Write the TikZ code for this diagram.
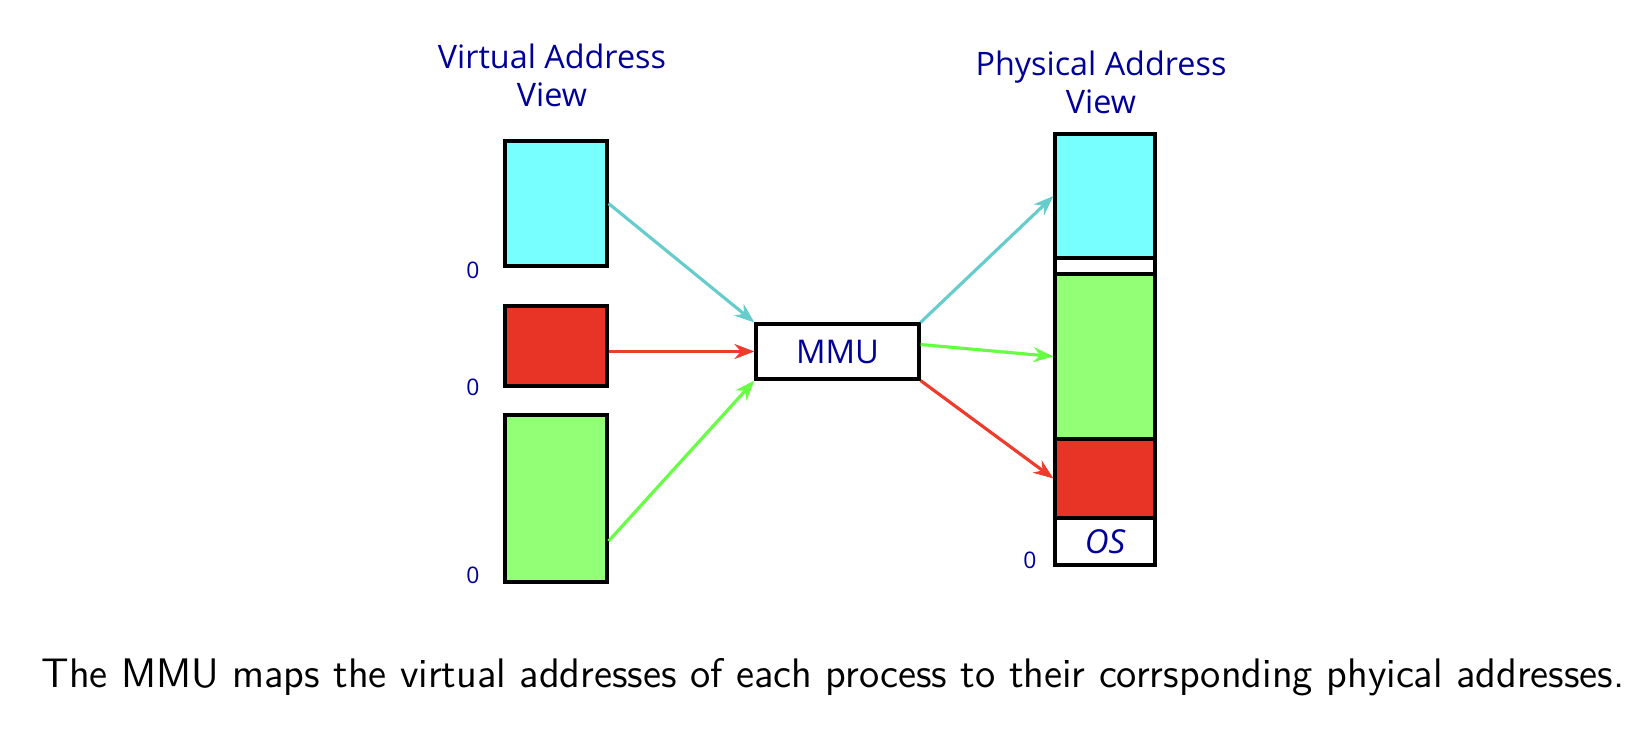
\documentclass[tikz,border=0pt]{standalone}
\usepackage{fontspec}
\newfontfamily\comicfont{Open Sans}
\usepackage{tikz}
\usetikzlibrary{calc,arrows.meta}
\definecolor{navy}{RGB}{0,0,153}
\definecolor{segcyan}{RGB}{119,255,255}
\definecolor{segred}{RGB}{232,52,39}
\definecolor{seggreen}{RGB}{147,255,119}
\definecolor{mapcyan}{RGB}{102,204,204}
\definecolor{mapred}{RGB}{238,59,43}
\definecolor{mapgreen}{RGB}{102,255,68}

\begin{document}
\begin{tikzpicture}[
    seg/.style={draw=black,line width=0.9pt,inner sep=0pt,minimum width=1.02cm},
    pseg/.style={seg,minimum width=1.00cm},
    title/.style={font=\comicfont\fontsize{9.2}{10.8}\selectfont,text=navy,align=center},
    zero/.style={font=\comicfont\fontsize{6.5}{7}\selectfont,text=navy},
    map/.style={line width=0.9pt,-{Stealth[length=2mm,width=1.5mm]}}
  ]
    \useasboundingbox(0,0) rectangle (16.36,7.30);
    % virtual address view
    \node[title](vtitle) at (5.52,6.55) {Virtual Address\\View};
    \node[seg,fill=segcyan,minimum height=1.25cm](vcyan) at (5.56,5.265) {};
    \node[seg,fill=segred,minimum height=0.80cm](vred) at (5.56,3.84) {};
    \node[seg,fill=seggreen,minimum height=1.67cm](vgreen) at (5.56,2.315) {};
    \node[zero](vzero1) at (4.73,4.60) {0};
    \node[zero](vzero2) at (4.73,3.43) {0};
    \node[zero](vzero3) at (4.73,1.55) {0};
    % mmu
    \node[draw=black,line width=0.9pt,minimum width=1.63cm,minimum height=0.55cm,
      font=\comicfont\fontsize{9.3}{11}\selectfont,text=navy](mmu) at (8.375,3.785) {MMU};
    % physical address view
    \node[title](ptitle) at (11.01,6.48) {Physical Address\\View};
    \node[pseg,fill=segcyan,minimum height=1.24cm](pcyan) at (11.05,5.34) {};
    \node[pseg,fill=white,minimum height=0.16cm](pgap) at (11.05,4.64) {};
    \node[pseg,fill=seggreen,minimum height=1.65cm](pgreen) at (11.05,3.735) {};
    \node[pseg,fill=segred,minimum height=0.79cm](pred) at (11.05,2.515) {};
    \node[pseg,fill=white,minimum height=0.47cm,
      font=\comicfont\itshape\fontsize{9.4}{11}\selectfont,text=navy](pos) at (11.05,1.885) {OS};
    \node[zero](pzero) at (10.30,1.70) {0};
    % mappings
    \draw[map,mapcyan](vcyan.east)--(mmu.north west);
    \draw[map,mapred](vred.east |- mmu.west)--(mmu.west);
    \draw[map,mapgreen]($(vgreen.south east)!0.25!(vgreen.north east)$)--(mmu.south west);
    \draw[map,mapcyan](mmu.north east)--(pcyan.west);
    \draw[map,mapgreen]($(mmu.south east)!0.62!(mmu.north east)$)--(pgreen.west);
    \draw[map,mapred](mmu.south east)--(pred.west);
    % caption
    \node[anchor=base,font=\sffamily\fontsize{11.75}{14}\selectfont](caption) at (8.33,0.42)
      {The MMU maps the virtual addresses of each process to their corrsponding phyical addresses.};
  \end{tikzpicture}
\end{document}
